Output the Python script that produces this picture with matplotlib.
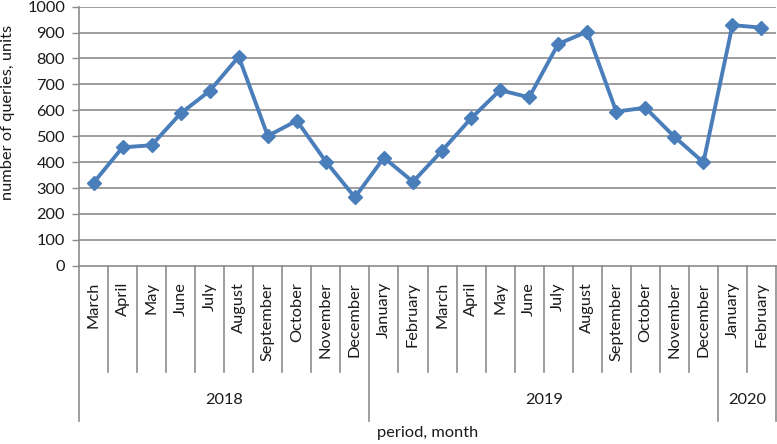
import matplotlib
matplotlib.use("Agg")
import matplotlib.pyplot as plt

plt.rcParams['font.family'] = ['Lato', 'DejaVu Sans']

months = ["March", "April", "May", "June", "July", "August", "September",
          "October", "November", "December",
          "January", "February", "March", "April", "May", "June", "July",
          "August", "September", "October", "November", "December",
          "January", "February"]
years = ["2018", "2019", "2020"]
year_counts = [10, 12, 2]
values = [320, 457, 465, 588, 675, 807, 501, 560, 402, 264,
          417, 324, 444, 569, 678, 650, 856, 904, 595, 610, 498, 399,
          929, 919]

W, H = 777, 444
fig = plt.figure(figsize=(W / 100, H / 100), dpi=100)
left_px, right_px, top_px, bot_px = 79, 776, 6.7, 265.7
ax = fig.add_axes([left_px / W, 1 - bot_px / H, (right_px - left_px) / W, (bot_px - top_px) / H])

grid_c = "#8c8c8c"
line_c = "#4a7ebb"
text_c = "#1a1a1a"
fs = 11.8

x = list(range(len(values)))
ax.plot(x, values, color=line_c, lw=2.8, marker="D", ms=7.5, mec=line_c, mfc=line_c, zorder=3)

ax.set_xlim(-0.5, len(values) - 0.5)
ax.set_ylim(0, 1000)
ax.set_yticks(range(0, 1001, 100))
ax.tick_params(axis="y", length=5, width=1, color=grid_c, labelsize=fs, labelcolor=text_c, pad=5)
ax.set_xticks([])
for yv in range(100, 1001, 100):
    ax.axhline(yv, color=grid_c, lw=1.2, zorder=1)
for s in ["top", "right"]:
    ax.spines[s].set_visible(False)
ax.spines["left"].set_color(grid_c)
ax.spines["bottom"].set_color(grid_c)
ax.spines["left"].set_linewidth(1.2)
ax.spines["bottom"].set_linewidth(1.2)

tr = ax.get_xaxis_transform()
hpx = bot_px - top_px
def fy(px):
    return (bot_px - px) / hpx

# month separators
boundaries = [0]
for c in year_counts:
    boundaries.append(boundaries[-1] + c)
for i in range(len(values) + 1):
    bottom = 420.7 if i in boundaries else 372
    ax.plot([i - 0.5, i - 0.5], [0, fy(bottom)], transform=tr, color=grid_c, lw=1.2, clip_on=False)

for i, m in enumerate(months):
    ax.text(i, fy(282), m, transform=tr, rotation=90, ha="center", va="top",
            fontsize=fs, color=text_c)

for k, yr in enumerate(years):
    cx = (boundaries[k] + boundaries[k + 1]) / 2 - 0.5
    ax.text(cx, fy(400), yr, transform=tr, ha="center", va="center", fontsize=fs, color=text_c)

ax.text(0.5, fy(433), "period, month", transform=ax.transAxes, ha="center", va="center",
        fontsize=fs, color=text_c)
fig.text(8 / W, 1 - 112 / H, "number of queries, units", rotation=90, ha="center", va="center",
         fontsize=fs, color=text_c)

fig.savefig("out.png", dpi=100)
